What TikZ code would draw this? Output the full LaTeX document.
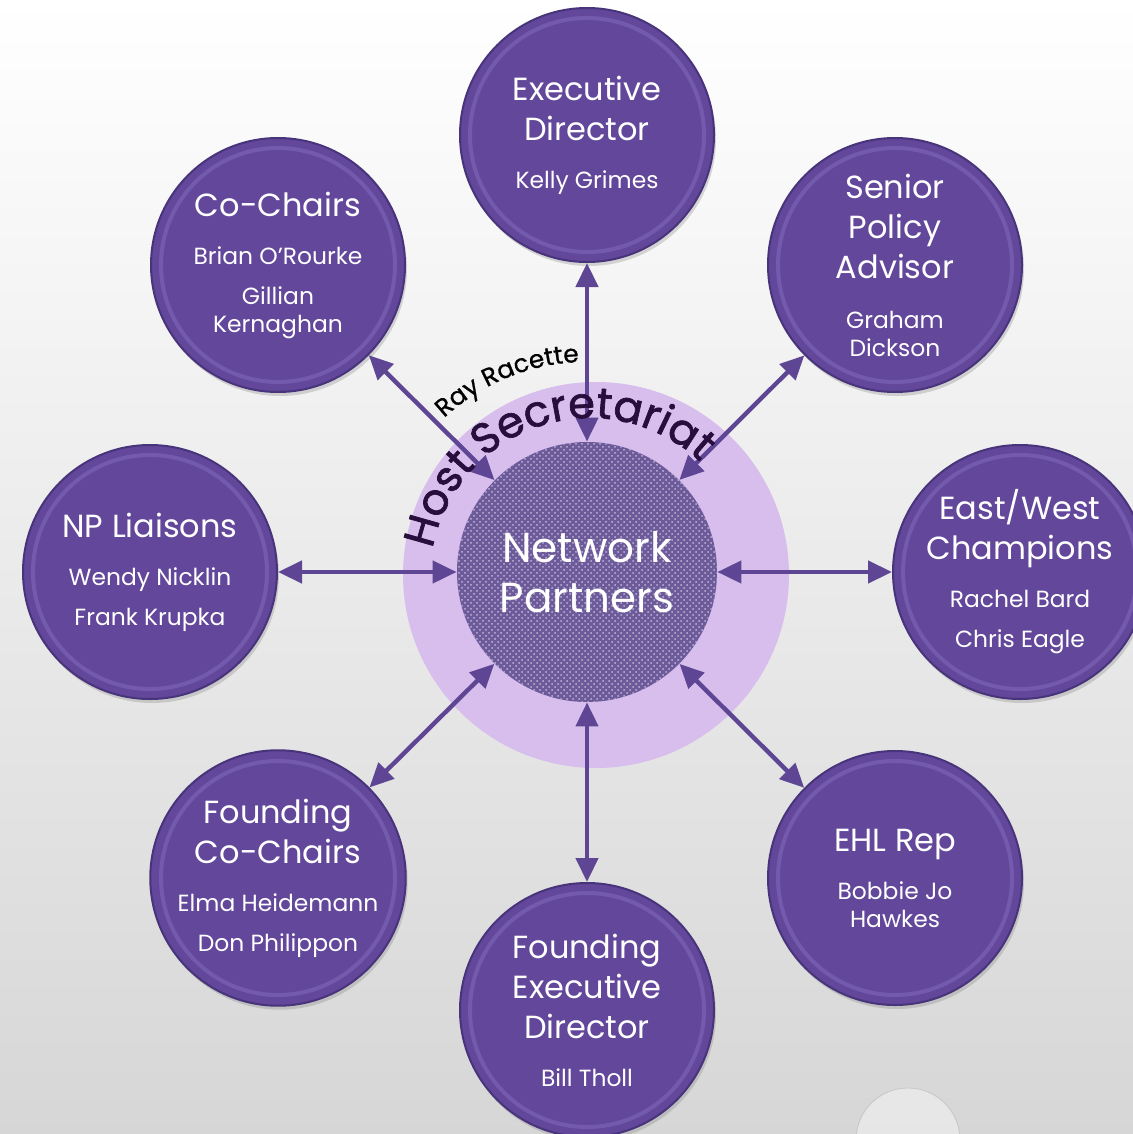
\documentclass[tikz,border=0pt]{standalone}
\usepackage{fontspec}
\setmainfont{Poppins}
\newfontfamily\hostfont{Poppins}[FakeBold=1.6]
\newfontfamily\rayfont{Poppins}[FakeBold=0.8]
\usepackage{tikz}
\usetikzlibrary{arrows.meta, shadows, patterns, decorations.text}
\definecolor{roleFill}{RGB}{98,71,154}
\definecolor{roleEdge}{RGB}{72,52,122}
\definecolor{roleRim}{RGB}{128,104,184}
\definecolor{linkCol}{RGB}{94,70,148}
\definecolor{hostRing}{RGB}{216,190,236}
\definecolor{npFill}{RGB}{108,90,154}
\definecolor{hostText}{RGB}{40,14,60}
\newcommand{\namesize}{\fontsize{11.7}{20}\selectfont}
\tikzset{
  role/.style={circle, fill=roleFill, draw=roleEdge, line width=1pt, minimum size=127pt,
    inner sep=0pt, text=white, align=center, font=\fontsize{16}{20}\selectfont,
    drop shadow={opacity=.3, shadow xshift=1pt, shadow yshift=-2pt}},
  rim/.style={draw=roleRim, line width=2pt, opacity=.6},
  link/.style={<->, >={Triangle[length=12pt, width=11pt]}, line width=2.2pt, draw=linkCol},
}

\begin{document}
\begin{tikzpicture}[x=0.5pt, y=-0.5pt]
	\clip (0,0) rectangle (1133,1134);
	\shade[top color=white, bottom color=black!16] (0,0) rectangle (1133,1134);
	\draw[black!22, fill=white, fill opacity=.4] (908,1140) circle (52);

	% host ring
	\fill[hostRing] (596,575) circle (193);

	\node[circle, fill=npFill, minimum size=130pt, inner sep=0pt, text=white, align=center,
		font=\fontsize{21}{25}\selectfont,
		postaction={pattern=crosshatch dots, pattern color=white!55!npFill}] (np) at (587,572) {Network\\Partners};

	\node[role] (exec) at (587,135) {Executive\\Director\\[4pt]\namesize Kelly Grimes};
	\node[role] (cochairs) at (278,265) {Co-Chairs\\[4pt]\namesize Brian O’Rourke\\\namesize Gillian\\[-6pt]\namesize Kernaghan};
	\node[role] (senior) at (895,265) {Senior\\Policy\\Advisor\\[5pt]\namesize Graham\\[-6pt]\namesize Dickson};
	\node[role] (liaison) at (150,572) {NP Liaisons\\[4pt]\namesize Wendy Nicklin\\\namesize Frank Krupka};
	\node[role] (champ) at (1020,572) {East/West\\Champions\\[4pt]\namesize Rachel Bard\\\namesize Chris Eagle};
	\node[role] (ehl) at (895,878) {EHL Rep\\[4pt]\namesize Bobbie Jo\\[-6pt]\namesize Hawkes};
	\node[role] (fexec) at (587,1010) {Founding\\Executive\\Director\\[4pt]\namesize Bill Tholl};
	\node[role] (fcochairs) at (278,878) {Founding\\Co-Chairs\\[4pt]\namesize Elma Heidemann\\\namesize Don Philippon};

	\foreach \n in {exec, cochairs, senior, liaison, champ, ehl, fexec, fcochairs}
		\draw[rim] (\n.center) circle (117);

	\foreach \n in {exec, cochairs, senior, liaison, champ, ehl, fexec, fcochairs}
		\draw[link] (\n) -- (np);

	% curved labels
	\path[decorate, decoration={text along path, text align=center, text color=hostText,
		text={|\hostfont\fontsize{21.5}{26}\selectfont|Host Secretariat}}]
		(590,578) ++(-192:160) arc[start angle=-192, end angle=-24, radius=160];
	\path[decorate, decoration={text along path, text align=center, text color=black,
		text={|\rayfont\fontsize{12.5}{14}\selectfont|Ray Racette}}]
		(587,572) ++(-150:210) arc[start angle=-150, end angle=-75, radius=210];
\end{tikzpicture}
\end{document}
